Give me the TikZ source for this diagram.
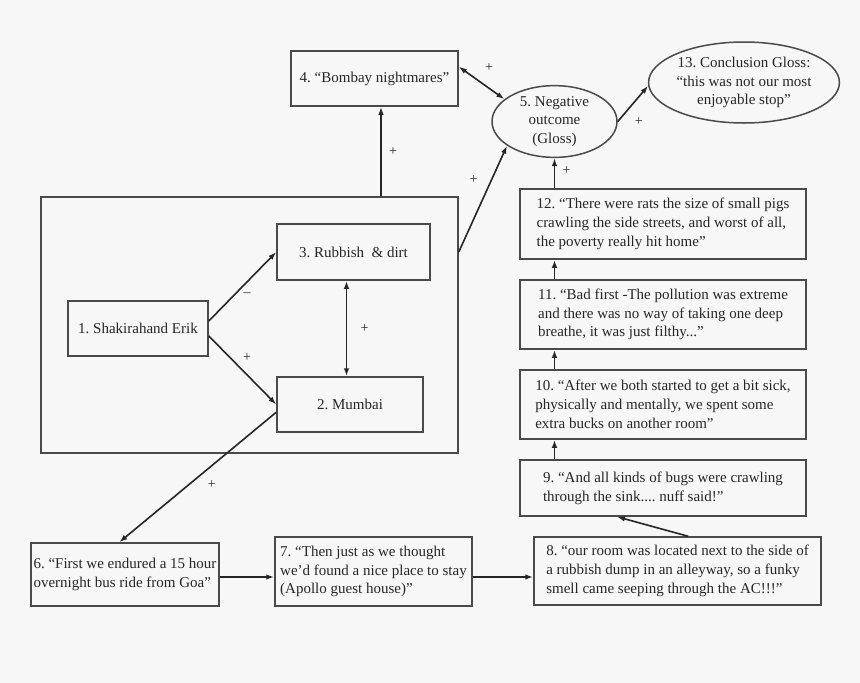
\documentclass[tikz,border=0pt]{standalone}
\usepackage{fontspec}
\setmainfont{Liberation Serif}
\usetikzlibrary{arrows.meta, shapes.geometric}
\definecolor{paper}{HTML}{F7F7F7}
\definecolor{ink}{HTML}{262626}
\definecolor{rim}{HTML}{4A4A4A}

\begin{document}
\frenchspacing
\begin{tikzpicture}[x=1pt, y=-1pt,
    every node/.style={font=\fontsize{15}{18.8}\selectfont, text=ink},
    box/.style={draw=rim, line width=1.5pt, rectangle, align=left, inner sep=1pt},
    oval/.style={draw=rim, line width=1.5pt, ellipse, align=center, inner sep=0pt},
    link/.style={draw=ink, line width=1.6pt, -{Latex[length=8pt, width=5.5pt]}},
    both/.style={link, {Latex[length=8pt, width=5.5pt]}-{Latex[length=8pt, width=5.5pt]}},
    sign/.style={font=\fontsize{14}{14}\selectfont, inner sep=0pt}]

  \fill [paper] (0,0) rectangle (860,683);
  \useasboundingbox (0,0) rectangle (860,683);

  \node [box, minimum width=417pt, minimum height=256pt] (grp) at (249.5,325) {};
  \node [box, minimum width=140pt, minimum height=55pt] (n1) at (138,328.5) {1. Shakirahand Erik};
  \node [box, minimum width=146pt, minimum height=55pt] (n2) at (350,404.5) {2. Mumbai};
  \node [box, minimum width=153pt, minimum height=56pt] (n3) at (353.5,252) {3. Rubbish \ \& dirt};
  \node [box, minimum width=167pt, minimum height=55pt] (n4) at (374.5,78.5) {4. ``Bombay nightmares''};
  \node [oval, minimum width=125pt, minimum height=69pt] (n5) at (554.5,121.5) {5. Negative\\outcome\\(Gloss)};
  \node [box, minimum width=188pt, minimum height=63pt] (n6) at (125,574.5)
    {6. ``First we endured a 15 hour\\overnight bus ride from Goa''};
  \node [box, minimum width=197pt, minimum height=69pt] (n7) at (373.5,571.5)
    {7. ``Then just as we thought\\we'd found a nice place to stay\\(Apollo guest house)''};
  \node [box, minimum width=287pt, minimum height=68pt] (n8) at (677.5,571)
    {8. ``our room was located next to the side of\\a rubbish dump in an alleyway, so a funky\\smell came seeping through the AC!!!''};
  \node [box, minimum width=286pt, minimum height=56pt] (n9) at (663,488)
    {9. ``And all kinds of bugs were crawling\\through the sink.... nuff said!''};
  \node [box, minimum width=286pt, minimum height=69pt] (n10) at (663,404.5)
    {10. ``After we both started to get a bit sick,\\physically and mentally, we spent some\\extra bucks on another room''};
  \node [box, minimum width=286pt, minimum height=69pt] (n11) at (663,314.5)
    {11. ``Bad first -The pollution was extreme\\and there was no way of taking one deep\\breathe, it was just filthy...''};
  \node [box, minimum width=286pt, minimum height=70pt] (n12) at (663,224)
    {12. ``There were rats the size of small pigs\\crawling the side streets, and worst of all,\\the poverty really hit home''};
  \node [oval, minimum width=170pt, minimum height=81pt] (n13) at (744,82.5)
    {13. Conclusion Gloss:\\``this was not our most\\enjoyable stop''};

  \coordinate (up4) at (381,0);
  \coordinate (mid23) at (346.5,0);
  \coordinate (row) at (0,577);

  \draw [link] (grp.north -| up4) -- (n4.south -| up4) node [sign, midway, xshift=12pt] {+};
  \draw [both] (n4.8) -- (n5.156) node [sign, midway, xshift=7.5pt, yshift=15pt] {+};
  \draw [link] (grp.east |- n3) -- (n5.207) node [sign, pos=.68, xshift=-18pt] {+};
  \draw [link] (n12.north -| n5) -- (n5.south) node [sign, midway, xshift=12pt, yshift=3pt] {+};
  \draw [link] (n5.east) -- (n13.182) node [sign, midway, xshift=6pt, yshift=-18pt] {+};

  \draw [link] (n1.6) -- (n3.west) node [sign, midway, xshift=4.5pt, yshift=-8pt] {--};
  \draw [link] (n1.-6) -- (n2.west) node [sign, midway, xshift=4.5pt, yshift=12.5pt] {+};
  \draw [both] (n3.south -| mid23) -- (n2.north -| mid23) node [sign, midway, xshift=18pt] {+};
  \draw [link] (n2.186) -- (n6.100) node [sign, midway, xshift=14pt, yshift=-7pt] {+};

  \draw [link] (n6.east |- row) -- (n7.west |- row);
  \draw [link] (n7.east |- row) -- (n8.west |- row);
  \draw [link] (n8.73) -- (n9.212);
  \foreach \a/\b in {n9/n10, n10/n11, n11/n12}
    \draw [link] (\a.north -| n5) -- (\b.south -| n5);

\end{tikzpicture}
\end{document}
